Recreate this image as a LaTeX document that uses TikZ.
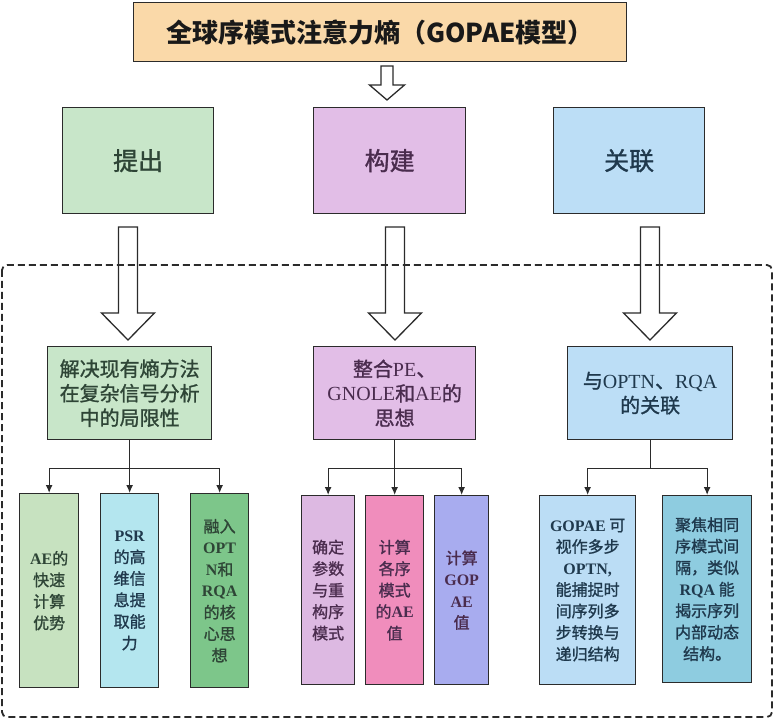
\documentclass[tikz,border=0pt]{standalone}
\usepackage{fontspec}
\setmainfont{Noto Sans CJK SC}
\newfontfamily\cjkm{Noto Sans CJK SC}[FakeBold=1.2]
\newfontfamily\enf{Liberation Serif}
\usetikzlibrary{arrows.meta,calc}
\definecolor{boxline}{HTML}{2B2B2B}
\definecolor{titlefill}{HTML}{FAD9A9}
\definecolor{gfill}{HTML}{C8E6C9}
\definecolor{pfill}{HTML}{E2BEE7}
\definecolor{bfill}{HTML}{BCDEF6}
\definecolor{gtext}{HTML}{2E4536}
\definecolor{ptext}{HTML}{4A2C4E}
\definecolor{btext}{HTML}{1F394D}
\definecolor{cA}{HTML}{C7E2C0}
\definecolor{cB}{HTML}{B4E6EF}
\definecolor{cC}{HTML}{7DC68A}
\definecolor{cD}{HTML}{DDB9E2}
\definecolor{cE}{HTML}{F08DBC}
\definecolor{cF}{HTML}{A8ACEF}
\definecolor{cG}{HTML}{BBDDF5}
\definecolor{cH}{HTML}{8ECCE0}
\newcommand\hollowarr[6]{%
  \draw[hollowstyle] (#1-#5,#2) -- (#1+#5,#2) -- (#1+#5,#3) -- (#1+#6,#3) -- (#1,#4)
    -- (#1-#6,#3) -- (#1-#5,#3) -- cycle;}
\begin{document}
\begin{tikzpicture}[x=1pt,y=-1pt,
  box/.style={draw=boxline, line width=1.3pt, inner sep=0pt, align=center, anchor=north west},
  toptext/.style={font=\cjkm\fontsize{25}{30}\selectfont},
  midtext/.style={font=\cjkm\fontsize{20}{24.5}\selectfont},
  kidtext/.style={font=\cjkm\fontsize{16}{21.5}\selectfont},
  conn/.style={draw=boxline, line width=1.3pt},
  tip/.style={conn, -{Latex[length=8pt,width=7pt]}},
  hollowstyle/.style={draw=boxline, line width=1.3pt, fill=white, line join=miter},
  frame/.style={draw=boxline, line width=1.8pt, dash pattern=on 7pt off 4pt, rounded corners=5pt}]
\useasboundingbox[fill=white] (0,0) rectangle (774,719);

% title
\node[box, fill=titlefill, minimum width=493pt, minimum height=59pt,
      font=\bfseries\fontsize{26}{30}\selectfont, text=black!90] (title) at (133,2)
      {全球序模式注意力熵（GOPAE模型）};

% top row
\node[box, fill=gfill, minimum width=151pt, minimum height=106pt, toptext, text=gtext] (t1) at (62,107) {提出};
\node[box, fill=pfill, minimum width=152pt, minimum height=106pt, toptext, text=ptext] (t2) at (313,107) {构建};
\node[box, fill=bfill, minimum width=151pt, minimum height=106pt, toptext, text=btext] (t3) at (553,107) {关联};

% middle row
\node[box, fill=gfill, minimum width=164pt, minimum height=93pt, midtext, text=gtext] (m1) at (47,346)
  {解决现有熵方法\\在复杂信号分析\\中的局限性};
\node[box, fill=pfill, minimum width=162pt, minimum height=93pt, midtext, text=ptext] (m2) at (313,346)
  {整合{\enf PE}、\\{\enf GNOLE}和{\enf AE}的\\思想};
\node[box, fill=bfill, minimum width=165pt, minimum height=93pt, midtext, text=btext] (m3) at (567,346)
  {与{\enf OPTN}、{\enf RQA}\\的关联};

% children
\node[box, fill=cA, minimum width=59pt, minimum height=194pt, kidtext, text=gtext] (c1) at (19,493)
  {{\enf\bfseries AE}的\\快速\\计算\\优势};
\node[box, fill=cB, minimum width=58pt, minimum height=194pt, kidtext, text=btext] (c2) at (100,493)
  {{\enf\bfseries PSR}\\的高\\维信\\息提\\取能\\力};
\node[box, fill=cC, minimum width=58pt, minimum height=194pt, kidtext, text=gtext] (c3) at (190,493)
  {融入\\{\enf\bfseries OPT}\\{\enf\bfseries N}和\\{\enf\bfseries RQA}\\的核\\心思\\想};
\node[box, fill=cD, minimum width=53pt, minimum height=189pt, kidtext, text=ptext] (c4) at (301,495)
  {确定\\参数\\与重\\构序\\模式};
\node[box, fill=cE, minimum width=58pt, minimum height=189pt, kidtext, text=ptext] (c5) at (365,495)
  {计算\\各序\\模式\\的{\enf\bfseries AE}\\值};
\node[box, fill=cF, minimum width=54pt, minimum height=189pt, kidtext, text=ptext] (c6) at (434,495)
  {计算\\{\enf\bfseries GOP}\\{\enf\bfseries AE}\\值};
\node[box, fill=cG, minimum width=96pt, minimum height=189pt, kidtext, text=btext] (c7) at (539,495)
  {{\enf\bfseries GOPAE} 可\\视作多步\\{\enf\bfseries OPTN,}\\能捕捉时\\间序列多\\步转换与\\递归结构};
\node[box, fill=cH, minimum width=89pt, minimum height=187pt, kidtext, text=btext] (c8) at (662,495)
  {聚焦相同\\序模式间\\隔，类似\\{\enf\bfseries RQA} 能\\揭示序列\\内部动态\\结构。};

% hollow arrows
\hollowarr{387}{66}{85}{100}{6}{17.5}
\hollowarr{128}{227}{313}{340}{9.5}{26.5}
\hollowarr{395}{227}{313}{340}{9.5}{26.5}
\hollowarr{650}{227}{313}{340}{9.5}{26.5}

% dashed frame
\draw[frame] (2,265) rectangle (772,717);

% connectors
\coordinate (j1) at ($(m1.south)+(0,28)$);
\coordinate (j2) at ($(m2.south)+(0,28)$);
\coordinate (j3) at ($(m3.south)+(0,28)$);
\draw[conn] (m1.south) -- (j1);
\draw[tip] (j1) -| (c1.north);
\draw[tip] (j1) -| (c3.north);
\draw[tip] (c2.north |- j1) -- (c2.north);
\draw[conn] (m2.south) -- (j2);
\draw[tip] (j2) -| (c4.north);
\draw[tip] (j2) -| (c6.north);
\draw[tip] (c5.north |- j2) -- (c5.north);
\draw[conn] (m3.south) -- (j3);
\draw[tip] (j3) -| (c7.north);
\draw[tip] (j3) -| (c8.north);
\end{tikzpicture}
\end{document}
